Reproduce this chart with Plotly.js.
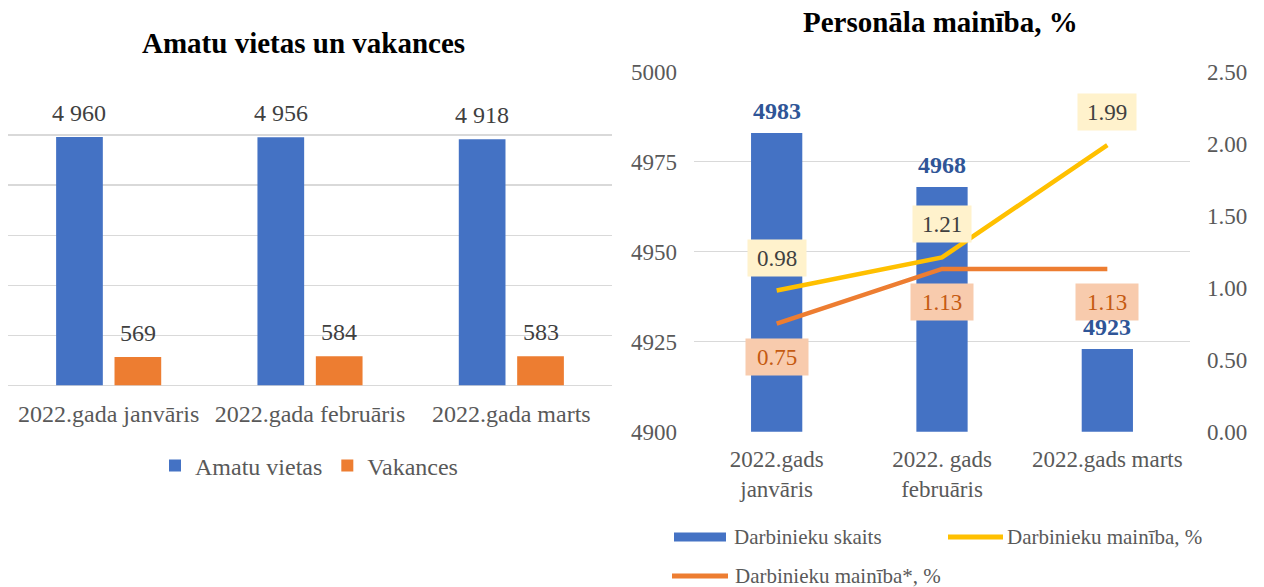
<!DOCTYPE html>
<html>
<head>
<meta charset="utf-8">
<script src="https://cdn.plot.ly/plotly-3.0.1.min.js"></script>
<style>html,body{margin:0;padding:0;background:#fff;}#chart{width:1264px;height:587px;}</style>
</head>
<body>
<div id="chart"></div>
<script>
// ---- data ----
const leftCategories = ['2022.gada janvāris', '2022.gada februāris', '2022.gada marts'];
const amatuVietas = [4960, 4956, 4918];
const vakances = [569, 584, 583];

const rightCategories = ['2022.gads<br>janvāris', '2022. gads<br>februāris', '2022.gads marts'];
const darbiniekuSkaits = [4983, 4968, 4923];
const darbiniekuMainiba = [0.98, 1.21, 1.99];
const darbiniekuMainibaStar = [0.75, 1.13, 1.13];

const leftTitle = 'Amatu vietas un vakances';
const rightTitle = 'Personāla mainība, %';
const seriesNames = ['Amatu vietas', 'Vakances', 'Darbinieku skaits', 'Darbinieku mainība, %', 'Darbinieku mainība*, %'];

// ---- styling ----
const W = 1264, H = 587;
const px = x => x / W;
const py = y => 1 - y / H;
const BLUE = '#4472C4', ORANGE = '#ED7D31', YELLOW = '#FFC000';
const FONT = 'Liberation Serif';
const GRID = '#D9D9D9';
const BARGAP = 0.42, BARGROUPGAP = 0.2;

const fmtSpace = v => String(v).replace(/\B(?=(\d{3})+(?!\d))/g, ' ');

const traces = [
  {type: 'bar', name: seriesNames[0], x: leftCategories, y: amatuVietas, marker: {color: BLUE}, xaxis: 'x', yaxis: 'y', hoverinfo: 'skip', legend: 'legend'},
  {type: 'bar', name: seriesNames[1], x: leftCategories, y: vakances, marker: {color: ORANGE}, xaxis: 'x', yaxis: 'y', hoverinfo: 'skip', legend: 'legend'},
  {type: 'bar', name: seriesNames[2], x: rightCategories, y: darbiniekuSkaits, marker: {color: BLUE}, width: 0.31, xaxis: 'x2', yaxis: 'y2', showlegend: false, hoverinfo: 'skip'},
  {type: 'scatter', mode: 'lines', name: seriesNames[3], x: rightCategories, y: darbiniekuMainiba, line: {color: YELLOW, width: 4.5}, xaxis: 'x2', yaxis: 'y3', showlegend: false, hoverinfo: 'skip'},
  {type: 'scatter', mode: 'lines', name: seriesNames[4], x: rightCategories, y: darbiniekuMainibaStar, line: {color: ORANGE, width: 4.5}, xaxis: 'x2', yaxis: 'y3', showlegend: false, hoverinfo: 'skip'}
];

const annotations = [];
// titles
annotations.push({xref: 'paper', yref: 'paper', x: px(303), y: py(43), xanchor: 'center', yanchor: 'middle', showarrow: false,
  text: '<b>' + leftTitle + '</b>', font: {family: FONT, size: 29, color: '#000000'}});
annotations.push({xref: 'paper', yref: 'paper', x: px(940), y: py(22), xanchor: 'center', yanchor: 'middle', showarrow: false,
  text: '<b>' + rightTitle + '</b>', font: {family: FONT, size: 29, color: '#000000'}});

// left data labels
const slot = (1 - BARGAP) / 2;
[amatuVietas, vakances].forEach((arr, j) => {
  arr.forEach((v, i) => {
    annotations.push({xref: 'x', yref: 'y', x: i + (j - 0.5) * slot, y: v, yshift: 24, showarrow: false,
      xanchor: 'center', yanchor: 'middle', text: fmtSpace(v), font: {family: FONT, size: 24, color: '#404040'}});
  });
});
// line labels
darbiniekuMainiba.forEach((v, i) => {
  annotations.push({xref: 'x2', yref: 'y3', x: i, y: v, yshift: 33, showarrow: false, xanchor: 'center', yanchor: 'middle',
    text: v.toFixed(2), bgcolor: '#FFF2CC', width: 50, height: 28, borderpad: 4,
    font: {family: FONT, size: 23, color: '#404040'}});
});
darbiniekuMainibaStar.forEach((v, i) => {
  annotations.push({xref: 'x2', yref: 'y3', x: i, y: v, yshift: -33, showarrow: false, xanchor: 'center', yanchor: 'middle',
    text: v.toFixed(2), bgcolor: '#F8CBAD', width: 54, height: 28, borderpad: 4,
    font: {family: FONT, size: 23, color: '#C55A11'}});
});
// right bar labels (drawn on top)
darbiniekuSkaits.forEach((v, i) => {
  annotations.push({xref: 'x2', yref: 'y2', x: i, y: v, yshift: 22, showarrow: false, xanchor: 'center', yanchor: 'middle',
    text: '<b>' + v + '</b>', font: {family: FONT, size: 24, color: '#2F5597'}});
});

// right legend (custom, wide symbols as in reference)
const legendItems = [
  {name: seriesNames[2], kind: 'rect', color: BLUE, x0: 674, x1: 726, y: 537, tx: 732},
  {name: seriesNames[3], kind: 'line', color: YELLOW, x0: 948, x1: 1003, y: 537, tx: 1005},
  {name: seriesNames[4], kind: 'line', color: ORANGE, x0: 672, x1: 728, y: 576, tx: 733}
];
const shapes = [];
legendItems.forEach(it => {
  if (it.kind === 'rect') {
    shapes.push({type: 'rect', xref: 'paper', yref: 'paper', x0: px(it.x0), x1: px(it.x1), y0: py(it.y + 4.5), y1: py(it.y - 4.5),
      fillcolor: it.color, line: {width: 0}});
  } else {
    shapes.push({type: 'line', xref: 'paper', yref: 'paper', x0: px(it.x0), x1: px(it.x1), y0: py(it.y), y1: py(it.y),
      line: {color: it.color, width: 5}});
  }
  annotations.push({xref: 'paper', yref: 'paper', x: px(it.tx), y: py(it.y), xanchor: 'left', yanchor: 'middle', showarrow: false,
    text: it.name, font: {family: FONT, size: 21, color: '#595959'}});
});

const layout = {
  width: W, height: H,
  margin: {l: 0, r: 0, t: 0, b: 0},
  paper_bgcolor: '#ffffff', plot_bgcolor: 'rgba(0,0,0,0)',
  font: {family: FONT, color: '#595959', size: 23},
  barmode: 'group', bargap: BARGAP, bargroupgap: BARGROUPGAP,
  showlegend: true,
  legend: {orientation: 'h', x: px(309), xanchor: 'center', y: py(466), yanchor: 'middle',
    font: {family: FONT, size: 24, color: '#595959'}, bgcolor: 'rgba(0,0,0,0)', itemwidth: 30, traceorder: 'normal'},
  xaxis: {domain: [px(8), px(612)], anchor: 'y', type: 'category', showgrid: false, zeroline: false,
    showline: false, ticks: '', ticklabelstandoff: 11,
    tickfont: {family: FONT, size: 24, color: '#595959'}, fixedrange: true},
  yaxis: {domain: [py(385.5), py(85)], anchor: 'x', range: [0, 6000], dtick: 1000, showticklabels: false,
    showgrid: true, gridcolor: GRID, gridwidth: 1.5, zeroline: true, zerolinecolor: GRID, zerolinewidth: 1.5, fixedrange: true},
  xaxis2: {domain: [px(694), px(1190)], anchor: 'y2', type: 'category', showgrid: false, zeroline: false,
    showline: false, ticks: '', ticklabelstandoff: 11,
    tickfont: {family: FONT, size: 23, color: '#595959'}, fixedrange: true},
  yaxis2: {domain: [py(431.7), py(71.7)], anchor: 'x2', range: [4900, 5000], dtick: 25, tickformat: 'd',
    showgrid: true, gridcolor: GRID, gridwidth: 1.5, zeroline: false, ticks: '', ticklabelstandoff: 16,
    tickfont: {family: FONT, size: 23, color: '#595959'}, fixedrange: true},
  yaxis3: {domain: [py(431.7), py(71.7)], anchor: 'x2', overlaying: 'y2', side: 'right', range: [0, 2.5], dtick: 0.5,
    tickformat: '.2f', showgrid: false, zeroline: false, ticks: '', ticklabelstandoff: 16,
    tickfont: {family: FONT, size: 23, color: '#595959'}, fixedrange: true},
  annotations: annotations,
  shapes: shapes
};

Plotly.newPlot('chart', traces, layout, {displayModeBar: false, staticPlot: true});
</script>
</body>
</html>
